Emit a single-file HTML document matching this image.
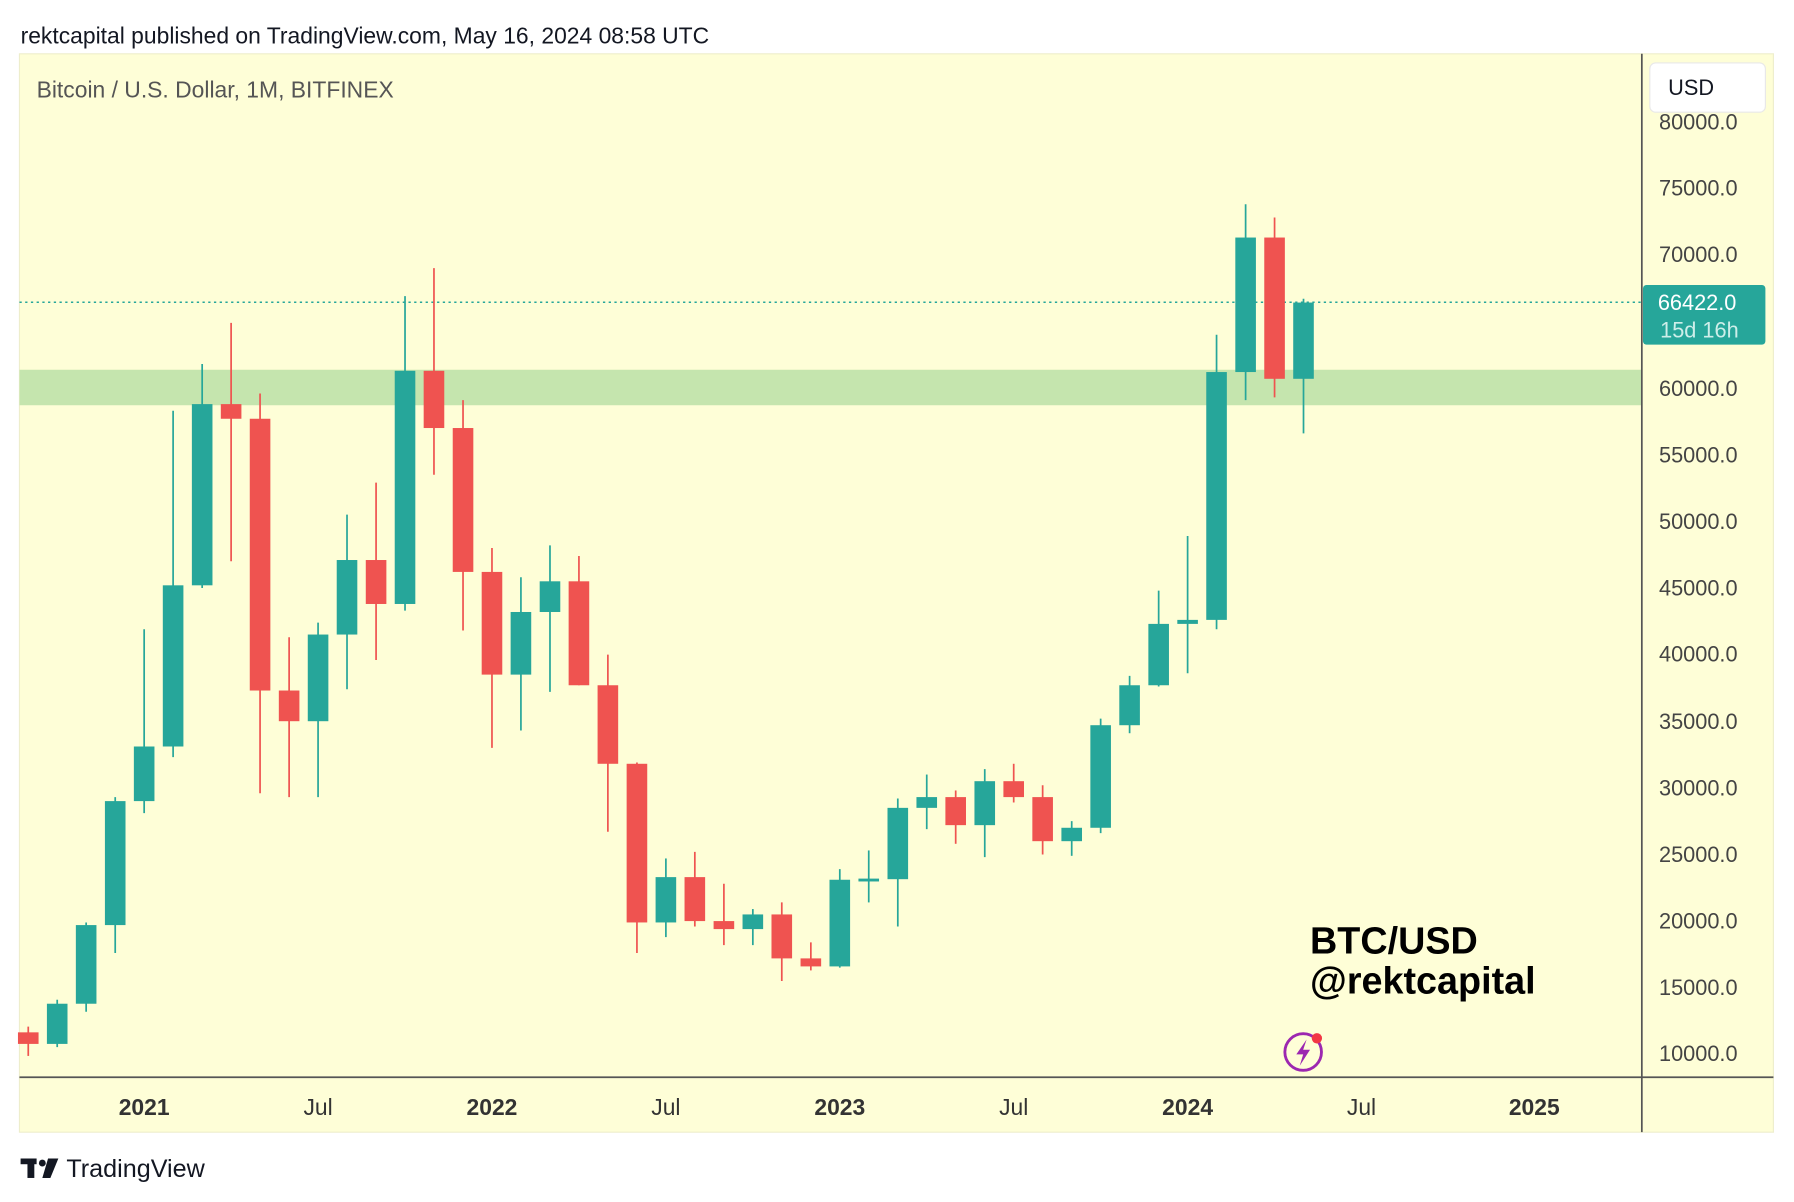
<!DOCTYPE html>
<html><head><meta charset="utf-8"><style>
html,body{margin:0;padding:0;background:#fff;}
svg{display:block;font-family:"Liberation Sans",sans-serif;}
</style></head><body>
<svg width="1794" height="1202" viewBox="0 0 1568 1050" preserveAspectRatio="none" xmlns="http://www.w3.org/2000/svg">
<rect width="1568" height="1050" fill="#fff"/>
<text x="18" y="38" font-size="20" fill="#131722">rektcapital published on TradingView.com, May 16, 2024 08:58 UTC</text>
<rect x="17" y="47" width="1533" height="942" fill="#fefed7" stroke="#eeeecc"/>
<rect x="17" y="323" width="1418" height="31" fill="#c5e5ae"/>
<line x1="17" y1="941" x2="1550" y2="941" stroke="#555" stroke-width="1.5"/>
<line x1="1435" y1="47" x2="1435" y2="989" stroke="#555" stroke-width="1.5"/>
<text x="32" y="85" font-size="20" fill="#555">Bitcoin / U.S. Dollar, 1M, BITFINEX</text>
<g font-size="19" fill="#444">
<text x="1450" y="113">80000.0</text>
<text x="1450" y="171">75000.0</text>
<text x="1450" y="229">70000.0</text>
<text x="1450" y="346">60000.0</text>
<text x="1450" y="404">55000.0</text>
<text x="1450" y="462">50000.0</text>
<text x="1450" y="520">45000.0</text>
<text x="1450" y="578">40000.0</text>
<text x="1450" y="637">35000.0</text>
<text x="1450" y="695">30000.0</text>
<text x="1450" y="753">25000.0</text>
<text x="1450" y="811">20000.0</text>
<text x="1450" y="869">15000.0</text>
<text x="1450" y="927">10000.0</text>
</g>
<rect x="1442" y="55" width="101" height="43" rx="5" fill="#fff" stroke="#e8e8e8"/>
<text x="1458" y="83" font-size="19" fill="#131722">USD</text>
<line x1="17" y1="264" x2="1435" y2="264" stroke="#26a69a" stroke-width="1.3" stroke-dasharray="2,3"/>
<rect x="1436" y="249" width="107" height="52" rx="3" fill="#26a69a"/>
<text x="1449" y="271" font-size="19" fill="#fff">66422.0</text>
<text x="1451" y="295" font-size="19" fill="#cdeee9">15d 16h</text>
<g font-size="20" fill="#333" text-anchor="middle">
<text x="126" y="974" font-weight="bold">2021</text>
<text x="278" y="974">Jul</text>
<text x="430" y="974" font-weight="bold">2022</text>
<text x="582" y="974">Jul</text>
<text x="734" y="974" font-weight="bold">2023</text>
<text x="886" y="974">Jul</text>
<text x="1038" y="974" font-weight="bold">2024</text>
<text x="1190" y="974">Jul</text>
<text x="1341" y="974" font-weight="bold">2025</text>
</g>
<g stroke="#26a69a" stroke-width="1.5">
<line x1="50" y1="873.3" x2="50" y2="914.7"/>
<line x1="75.3" y1="805.8" x2="75.3" y2="883.8"/>
<line x1="100.7" y1="696.3" x2="100.7" y2="832.5"/>
<line x1="126" y1="549.7" x2="126" y2="710.3"/>
<line x1="151.3" y1="358.8" x2="151.3" y2="661.4"/>
<line x1="176.7" y1="318" x2="176.7" y2="513.6"/>
<line x1="278" y1="543.9" x2="278" y2="696.3"/>
<line x1="303.3" y1="449.6" x2="303.3" y2="602.1"/>
<line x1="354" y1="258.7" x2="354" y2="533.4"/>
<line x1="455.3" y1="504.3" x2="455.3" y2="638.1"/>
<line x1="480.7" y1="476.4" x2="480.7" y2="604.4"/>
<line x1="582" y1="749.9" x2="582" y2="818.6"/>
<line x1="658" y1="794.1" x2="658" y2="825.6"/>
<line x1="734" y1="759.2" x2="734" y2="845.3"/>
<line x1="759.3" y1="742.9" x2="759.3" y2="788.3"/>
<line x1="784.7" y1="697.5" x2="784.7" y2="809.3"/>
<line x1="810" y1="676.6" x2="810" y2="724.3"/>
<line x1="860.7" y1="671.9" x2="860.7" y2="748.7"/>
<line x1="936.7" y1="717.3" x2="936.7" y2="747.6"/>
<line x1="962" y1="627.7" x2="962" y2="727.8"/>
<line x1="987.3" y1="590.4" x2="987.3" y2="640.5"/>
<line x1="1012.7" y1="515.9" x2="1012.7" y2="599.7"/>
<line x1="1038" y1="468.2" x2="1038" y2="588.1"/>
<line x1="1063.3" y1="292.4" x2="1063.3" y2="549.7"/>
<line x1="1088.7" y1="178.4" x2="1088.7" y2="349.5"/>
<line x1="1139.3" y1="261" x2="1139.3" y2="378.6"/>
</g>
<g fill="#26a69a">
<rect x="41" y="876.8" width="18" height="35.1"/>
<rect x="66.3" y="808.1" width="18" height="68.7"/>
<rect x="91.7" y="699.8" width="18" height="108.3"/>
<rect x="117" y="652.1" width="18" height="47.7"/>
<rect x="142.3" y="511.3" width="18" height="140.8"/>
<rect x="167.7" y="353" width="18" height="158.3"/>
<rect x="269" y="554.3" width="18" height="75.7"/>
<rect x="294.3" y="489.2" width="18" height="65.1"/>
<rect x="345" y="323.9" width="18" height="203.7"/>
<rect x="446.3" y="534.6" width="18" height="54.7"/>
<rect x="471.7" y="507.8" width="18" height="26.8"/>
<rect x="573" y="766.2" width="18" height="39.6"/>
<rect x="649" y="798.8" width="18" height="12.8"/>
<rect x="725" y="768.5" width="18" height="75.7"/>
<rect x="750.3" y="767.5" width="18" height="2.5"/>
<rect x="775.7" y="705.7" width="18" height="62.3"/>
<rect x="801" y="696.3" width="18" height="9.4"/>
<rect x="851.7" y="682.4" width="18" height="38.4"/>
<rect x="927.7" y="723.1" width="18" height="11.7"/>
<rect x="953" y="633.5" width="18" height="89.6"/>
<rect x="978.3" y="598.6" width="18" height="34.9"/>
<rect x="1003.7" y="545" width="18" height="53.6"/>
<rect x="1029" y="541.5" width="18" height="3.5"/>
<rect x="1054.3" y="325" width="18" height="216.5"/>
<rect x="1079.7" y="207.5" width="18" height="117.5"/>
<rect x="1130.3" y="264.3" width="18" height="66.6"/>
</g>
<g stroke="#ef5350" stroke-width="1.5">
<line x1="24.7" y1="896.8" x2="24.7" y2="922.4"/>
<line x1="202" y1="282" x2="202" y2="490.3"/>
<line x1="227.3" y1="343.7" x2="227.3" y2="692.9"/>
<line x1="252.7" y1="556.7" x2="252.7" y2="696.3"/>
<line x1="328.7" y1="421.6" x2="328.7" y2="576.5"/>
<line x1="379.3" y1="234.2" x2="379.3" y2="414.7"/>
<line x1="404.7" y1="349.5" x2="404.7" y2="550.8"/>
<line x1="430" y1="478.7" x2="430" y2="653.3"/>
<line x1="506" y1="485.7" x2="506" y2="598.6"/>
<line x1="531.3" y1="571.8" x2="531.3" y2="726.6"/>
<line x1="556.7" y1="666.1" x2="556.7" y2="832.5"/>
<line x1="607.3" y1="744.1" x2="607.3" y2="809.3"/>
<line x1="632.7" y1="772" x2="632.7" y2="825.6"/>
<line x1="683.3" y1="788.3" x2="683.3" y2="857"/>
<line x1="708.7" y1="823.2" x2="708.7" y2="847.7"/>
<line x1="835.3" y1="690.5" x2="835.3" y2="737.1"/>
<line x1="886" y1="667.2" x2="886" y2="701"/>
<line x1="911.3" y1="685.9" x2="911.3" y2="746.4"/>
<line x1="1114" y1="190" x2="1114" y2="347.1"/>
</g>
<g fill="#ef5350">
<rect x="15.7" y="901.8" width="18" height="10.1"/>
<rect x="193" y="353" width="18" height="12.8"/>
<rect x="218.3" y="365.8" width="18" height="237.4"/>
<rect x="243.7" y="603.2" width="18" height="26.8"/>
<rect x="319.7" y="489.2" width="18" height="38.4"/>
<rect x="370.3" y="323.9" width="18" height="50"/>
<rect x="395.7" y="373.9" width="18" height="125.7"/>
<rect x="421" y="499.6" width="18" height="89.7"/>
<rect x="497" y="507.8" width="18" height="90.8"/>
<rect x="522.3" y="598.6" width="18" height="68.6"/>
<rect x="547.7" y="667.2" width="18" height="138.6"/>
<rect x="598.3" y="766.2" width="18" height="38.4"/>
<rect x="623.7" y="804.6" width="18" height="7"/>
<rect x="674.3" y="798.8" width="18" height="38.4"/>
<rect x="699.7" y="837.2" width="18" height="7"/>
<rect x="826.3" y="696.3" width="18" height="24.5"/>
<rect x="877" y="682.4" width="18" height="13.9"/>
<rect x="902.3" y="696.3" width="18" height="38.5"/>
<rect x="1105" y="207.5" width="18" height="123.4"/>
</g>
<text x="1145" y="833" font-size="33" font-weight="bold" fill="#000">BTC/USD</text>
<text x="1145" y="868" font-size="33" font-weight="bold" fill="#000">@rektcapital</text>
<circle cx="1139" cy="919" r="16" fill="none" stroke="#9c27b0" stroke-width="2.5"/>
<path d="M1142 908 L1133 921 L1139 921 L1136 931 L1145 917 L1139 917 Z" fill="#9c27b0"/>
<circle cx="1151" cy="907" r="4.5" fill="#f23645"/>
<g fill="#131722">
<rect x="18" y="1012" width="14" height="5"/>
<rect x="24" y="1012" width="6" height="17"/>
<circle cx="37" cy="1016" r="3"/>
<path d="M42 1012 L51 1012 L44 1029 L37 1029 Z"/>
</g>
<text x="58" y="1028" font-size="22" fill="#131722">TradingView</text>
</svg>
</body></html>
